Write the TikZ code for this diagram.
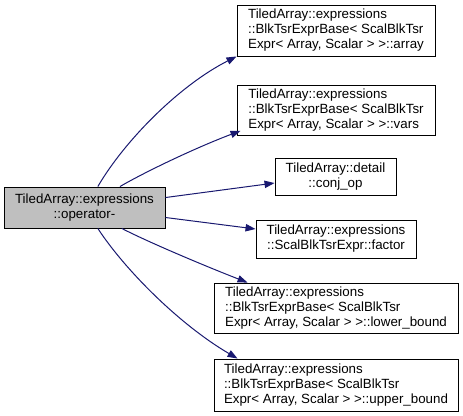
\documentclass[tikz,border=0pt]{standalone}
\usepackage{fontspec}
\setmainfont{Liberation Sans}
\usepackage{xcolor}
\usetikzlibrary{arrows.meta, positioning}
\definecolor{CG_EDGE}{HTML}{191970}
\definecolor{CG_ROOT}{HTML}{BFBFBF}
\tikzset{
  %% -- call graph member box --
  CG/box/.style={
    draw=black, fill=white, line width=0.7pt, inner sep=0pt,
    align=center, font=\fontsize{10}{11.25}\selectfont
  },
  %% -- the documented function (grey) --
  CG/root/.style={CG/box, fill=CG_ROOT},
  %% -- wrapped template names, left aligned --
  CG/long/.style={CG/box, align=left},
  %% -- call arrow --
  CG/call/.style={-{Triangle[length=7.5pt, width=5.5pt]}, line width=0.75pt, color=CG_EDGE},
}

\begin{document}
\begin{tikzpicture}[x=0.75pt, y=-0.75pt]
%% ── Frame (pixel grid, y downwards) ─────────────────────────
\useasboundingbox (0,0) rectangle (463,416);
\pgfmathsetmacro{\xM}{336}   % column of callees

%% ── Caller ───────────────────────────────────────────────────
\node[CG/root, minimum width=120.75pt, minimum height=30.75pt] (op) at (84.5,207.5)
  {TiledArray::expressions\\::operator-};

%% ── Callees ──────────────────────────────────────────────────
\node[CG/long, minimum width=148.5pt, minimum height=38.25pt] (array) at (\xM,30.5)
  {TiledArray::expressions\\::BlkTsrExprBase< ScalBlkTsr\\Expr< Array, Scalar > >::array};
\node[CG/long, minimum width=148.5pt, minimum height=37.5pt] (vars) at (\xM,110)
  {TiledArray::expressions\\::BlkTsrExprBase< ScalBlkTsr\\Expr< Array, Scalar > >::vars};
\node[CG/box, minimum width=90.75pt, minimum height=27.75pt] (conj) at (335.5,176.5)
  {TiledArray::detail\\::conj\_op};
\node[CG/box, minimum width=120pt, minimum height=28.5pt] (factor) at (\xM,239)
  {TiledArray::expressions\\::ScalBlkTsrExpr::factor};
\node[CG/long, minimum width=183pt, minimum height=37.5pt] (lower) at (\xM,308)
  {TiledArray::expressions\\::BlkTsrExprBase< ScalBlkTsr\\Expr< Array, Scalar > >::lower\_bound};
\node[CG/long, minimum width=183pt, minimum height=39pt] (upper) at (\xM,385)
  {TiledArray::expressions\\::BlkTsrExprBase< ScalBlkTsr\\Expr< Array, Scalar > >::upper\_bound};

%% ── Calls ────────────────────────────────────────────────────
\draw[CG/call] ([xshift=10pt]op.north) .. controls (125,140) and (180,85) .. (array.south west);
\draw[CG/call] ([xshift=26.6pt]op.north) .. controls (145,172) and (195,148) .. ([xshift=3pt,yshift=3.5pt]vars.south west);
\draw[CG/call] ([yshift=-8.25pt]op.north east) -- ([yshift=-4.9pt]conj.west);
\draw[CG/call] ([yshift=-7.5pt]op.east) -- ([yshift=7.5pt]factor.west);
\draw[CG/call] ([xshift=28pt]op.south) .. controls (150,243) and (210,268) .. ([xshift=25.5pt]lower.north west);
\draw[CG/call] ([xshift=10pt]op.south) .. controls (125,270) and (180,325) .. ([xshift=18pt]upper.north west);

\end{tikzpicture}
\end{document}
